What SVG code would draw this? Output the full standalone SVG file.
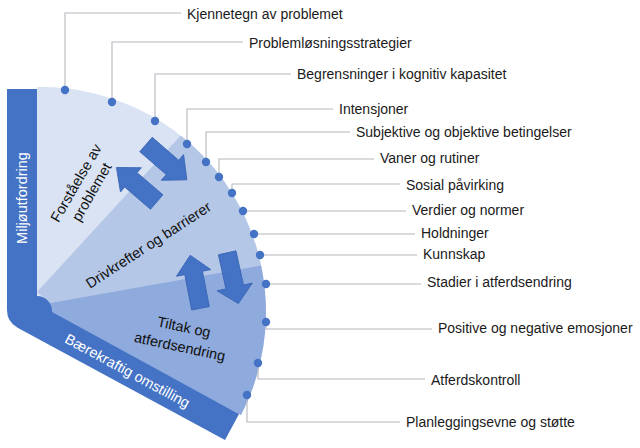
<svg xmlns="http://www.w3.org/2000/svg" width="640" height="448" viewBox="0 0 640 448">
<style>
.lbl{font-family:"Liberation Sans",Arial,sans-serif;font-size:14px;fill:#1a1a1a}
.sec{font-family:"Liberation Sans",Arial,sans-serif;font-size:14.5px;fill:#111;text-anchor:middle}
.wht{font-family:"Liberation Sans",Arial,sans-serif;font-size:14.5px;fill:#fff;text-anchor:middle}
.conn{fill:none;stroke:#b4b8bf;stroke-width:1.1}
.dot{fill:#4472C4}
.arrow{fill:#4472C4;stroke:#3763b3;stroke-width:0.8}
</style>
<defs>
<clipPath id="fan"><path d="M37 87 A225 225 0 0 1 241 415 L50 312 L37 300 Z"/></clipPath>
</defs>
<rect width="640" height="448" fill="#fff"/>
<g id="sectors" clip-path="url(#fan)">
<rect x="0" y="60" width="360" height="390" fill="#DAE3F3"/>
<path d="M37 292 L250 60 L360 60 L360 250 L50 303 Z" fill="#B4C7E7"/>
<path d="M50 303 L360 248 L360 450 L37 450 Z" fill="#8FAADC"/>
</g>
<g id="band">
<path d="M7 89 H37 V296 A15 15 0 0 1 52 312 L239 414 L225 440 L17.6 327.7 A20 20 0 0 1 7 310 Z" fill="#4472C4"/>
<text class="wht" transform="translate(22,198) rotate(-90)" y="5">Miljøutfordring</text>
<text class="wht" transform="translate(127.5,370.8) rotate(28.4)" y="5">Bærekraftig omstilling</text>
</g>
<g id="arrows">
<polygon class="arrow" transform="translate(146,144.5) rotate(40.9)" points="0,-9.5 35,-9.5 35,-17 54,0 35,17 35,9.5 0,9.5"/>
<polygon class="arrow" transform="translate(156.7,202) rotate(220.6)" points="0,-9.5 34,-9.5 34,-16 53,0 34,16 34,9.5 0,9.5"/>
<polygon class="arrow" transform="translate(200.5,308.3) rotate(-101)" points="0,-9 36,-9 36,-17.5 54,0 36,17.5 36,9 0,9"/>
<polygon class="arrow" transform="translate(227.2,252.8) rotate(77.6)" points="0,-9 35,-9 35,-18 52,0 35,18 35,9 0,9"/>
</g>
<g id="sector-labels">
<text class="sec" transform="translate(76,183) rotate(-60)" y="5">Forståelse av</text>
<text class="sec" transform="translate(91.5,192) rotate(-60)" y="5">problemet</text>
<text class="sec" transform="translate(148.5,245) rotate(-33)" y="5">Drivkrefter og barrierer</text>
<text class="sec" transform="translate(184,327) rotate(12)" y="5">Tiltak og</text>
<text class="sec" transform="translate(179.8,346.6) rotate(12)" y="5">atferdsendring</text>
</g>
<g id="connectors">
<path class="conn" d="M65 90 V13 H181"/>
<path class="conn" d="M112 102 V42 H243"/>
<path class="conn" d="M155 121 V74 H291"/>
<path class="conn" d="M187 144 V109 H333"/>
<path class="conn" d="M206 162 V132 H350"/>
<path class="conn" d="M219 177 V159 H374"/>
<path class="conn" d="M232 193 V184 H400"/>
<path class="conn" d="M243 211 H406"/>
<path class="conn" d="M254 234 H415"/>
<path class="conn" d="M260 255 H417"/>
<path class="conn" d="M266 284 H421"/>
<path class="conn" d="M266 322 V329 H432"/>
<path class="conn" d="M258 363 V379 H425"/>
<path class="conn" d="M247 395 V422 H400"/>
</g>
<g id="n1"><circle class="dot" cx="65" cy="90" r="4.2"/><text class="lbl" x="187" y="19">Kjennetegn av problemet</text></g>
<g id="n2"><circle class="dot" cx="112" cy="102" r="4.2"/><text class="lbl" x="249" y="48">Problemløsningsstrategier</text></g>
<g id="n3"><circle class="dot" cx="155" cy="121" r="4.2"/><text class="lbl" x="297" y="79">Begrensninger i kognitiv kapasitet</text></g>
<g id="n4"><circle class="dot" cx="187" cy="144" r="4.2"/><text class="lbl" x="339" y="114">Intensjoner</text></g>
<g id="n5"><circle class="dot" cx="206" cy="162" r="4.2"/><text class="lbl" x="356" y="137">Subjektive og objektive betingelser</text></g>
<g id="n6"><circle class="dot" cx="219" cy="177" r="4.2"/><text class="lbl" x="380" y="163">Vaner og rutiner</text></g>
<g id="n7"><circle class="dot" cx="232" cy="193" r="4.2"/><text class="lbl" x="406" y="190">Sosial påvirking</text></g>
<g id="n8"><circle class="dot" cx="243" cy="211" r="4.2"/><text class="lbl" x="412" y="215">Verdier og normer</text></g>
<g id="n9"><circle class="dot" cx="254" cy="234" r="4.2"/><text class="lbl" x="421" y="238">Holdninger</text></g>
<g id="n10"><circle class="dot" cx="260" cy="255" r="4.2"/><text class="lbl" x="423" y="259">Kunnskap</text></g>
<g id="n11"><circle class="dot" cx="266" cy="284" r="4.2"/><text class="lbl" x="427" y="287">Stadier i atferdsendring</text></g>
<g id="n12"><circle class="dot" cx="266" cy="322" r="4.2"/><text class="lbl" x="438" y="333">Positive og negative emosjoner</text></g>
<g id="n13"><circle class="dot" cx="258" cy="363" r="4.2"/><text class="lbl" x="431" y="385">Atferdskontroll</text></g>
<g id="n14"><circle class="dot" cx="247" cy="395" r="4.2"/><text class="lbl" x="406" y="427">Planleggingsevne og støtte</text></g>
</svg>
